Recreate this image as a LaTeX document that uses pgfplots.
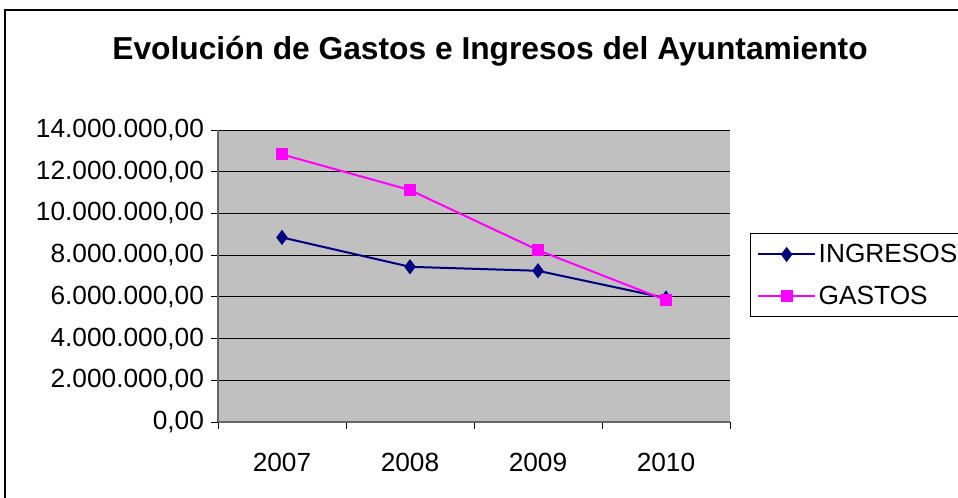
\documentclass[border=0pt]{standalone}
\usepackage{fontspec}
\setmainfont{Liberation Sans}
\usepackage{pgfplots}
\pgfplotsset{compat=1.18}
\definecolor{plotgray}{HTML}{C0C0C0}
\definecolor{ingcol}{HTML}{000080}
\definecolor{gascol}{HTML}{FF00FF}
\begin{document}
\begin{tikzpicture}
\useasboundingbox (0pt,0pt) rectangle (718.5pt,372.75pt);
\draw[line width=1.5pt] (3.75pt,-10pt) -- (3.75pt,365.25pt) -- (740pt,365.25pt);
\node[font=\fontsize{23.8}{28}\selectfont\bfseries] at (367.5pt,334pt) {Evolución de Gastos e Ingresos del Ayuntamiento};
\begin{axis}[
  at={(163.5pt,56.25pt)}, anchor=south west,
  scale only axis, width=384pt, height=219pt,
  xmin=0.5, xmax=4.5, ymin=0, ymax=14,
  axis background/.style={fill=plotgray},
  axis line style={draw=gray!80!black, line width=0.8pt},
  xtick={0.5,1.5,2.5,3.5,4.5},
  xticklabels={2007,2008,2009,2010},
  x tick label as interval,
  ytick={0,2,4,6,8,10,12,14},
  yticklabels={{0,00},{2.000.000,00},{4.000.000,00},{6.000.000,00},{8.000.000,00},{10.000.000,00},{12.000.000,00},{14.000.000,00}},
  tick align=outside, major tick length=5pt,
  tick style={black, line width=0.6pt},
  axis x line*=bottom, axis y line*=left,
  ymajorgrids, grid style={black, line width=0.75pt},
  tick label style={font=\fontsize{19.7}{23}\selectfont},
  xticklabel style={yshift=-15pt},
  yticklabel style={xshift=-2pt},
  legend style={at={(1.039,0.647)}, anchor=north west, draw=black, fill=white, line width=0.8pt,
    font=\fontsize{19.7}{23}\selectfont, cells={anchor=west}, row sep=12pt, inner xsep=5pt, inner ysep=6pt},
  legend cell align=left,
  legend image code/.code={\draw[mark repeat=2,mark phase=2,#1] plot coordinates {(0cm,0cm) (0.75cm,0cm) (1.5cm,0cm)};},
]
\addplot[color=ingcol, line width=1.5pt, mark=diamond*, mark size=4.5pt, mark options={solid, fill=ingcol}]
  coordinates {(1,8.85) (2,7.44) (3,7.25) (4,5.94)};
\addlegendentry{INGRESOS}
\addplot[color=gascol, line width=1.5pt, mark=square*, mark size=3.8pt, mark options={solid, fill=gascol}]
  coordinates {(1,12.83) (2,11.12) (3,8.24) (4,5.84)};
\addlegendentry{GASTOS}
\end{axis}
\end{tikzpicture}
\end{document}
